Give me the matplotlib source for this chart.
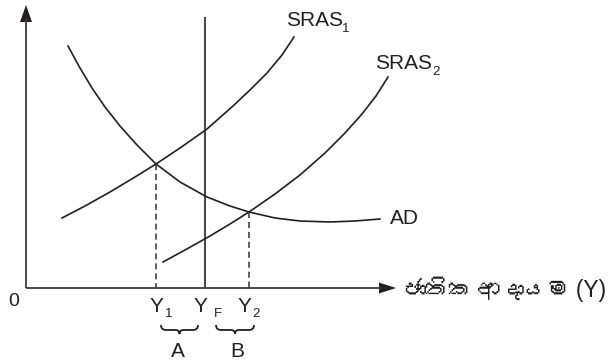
import matplotlib
matplotlib.use("Agg")
import matplotlib.pyplot as plt
from matplotlib.patches import Polygon, PathPatch
from matplotlib.path import Path
from matplotlib import font_manager
from matplotlib.ft2font import FT2Font

# ---------------- data (diagram read in pixel units of the 608x362 image) ----------------
ad_x = [68, 80, 92, 105, 120, 137, 156, 180, 207, 230, 249, 275, 300, 330, 355, 380]
ad_y = [46, 68, 88, 107, 126, 145, 164, 182, 197, 206, 212, 218, 221, 222, 221, 219]

sras1_x = [62, 85, 110, 135, 156, 180, 207, 233, 250, 267, 282, 294]
sras1_y = [218, 206, 192, 177, 164, 148, 129, 106, 90, 73, 55, 37]

sras2_x = [163, 185, 210, 230, 249, 275, 300, 325, 345, 362, 376, 388]
sras2_y = [262, 250, 236, 224, 212, 194, 175, 153, 133, 114, 96, 77]

y1_income, y1_price = 156, 164
y2_income, y2_price = 249, 212
yf_income = 205

curve_labels = ["SRAS", "SRAS", "AD"]
curve_subs = ["1", "2", ""]
income_labels = ["Y", "Y", "Y"]
income_subs = ["1", "F", "2"]
gap_labels = ["A", "B"]
origin_label = "0"
x_axis_label = "ජාතික ආදායම (Y)"

# ---------------- fonts ----------------
def find_font(ch):
    for f in font_manager.fontManager.ttflist:
        try:
            if ord(ch) in FT2Font(f.fname).get_charmap():
                return f.name
        except Exception:
            pass
    return None

sinhala_font = find_font("ජ")
latin = "Liberation Sans"
sin_family = [latin] + ([sinhala_font] if sinhala_font else []) + ["DejaVu Sans"]

INK = "#231f20"
AXC = "#3a3a3a"

fig = plt.figure(figsize=(6.08, 3.62), dpi=100)
ax = fig.add_axes([0, 0, 1, 1])
ax.set_xlim(0, 608)
ax.set_ylim(362, 0)
ax.axis("off")

# axes
ax_x0, ax_y0 = 26, 288
ax.plot([ax_x0, ax_x0], [ax_y0, 18], color=AXC, lw=1.3, solid_capstyle="butt")
ax.plot([ax_x0, 382], [ax_y0, ax_y0], color=AXC, lw=1.3, solid_capstyle="butt")
ax.add_patch(Polygon([[ax_x0, 5], [ax_x0 - 6, 22], [ax_x0 + 6, 22]], closed=True,
                     facecolor=INK, edgecolor="none"))
ax.add_patch(Polygon([[396, ax_y0], [379, ax_y0 - 5.5], [379, ax_y0 + 5.5]], closed=True,
                     facecolor=INK, edgecolor="none"))

# full-employment line
ax.plot([yf_income, yf_income], [ax_y0, 18], color="#4a4a4a", lw=1.5)

# curves
ax.plot(ad_x, ad_y, color=INK, lw=1.2)
ax.plot(sras1_x, sras1_y, color=INK, lw=1.2)
ax.plot(sras2_x, sras2_y, color=INK, lw=1.2)

# dashed guides
for xi, yi in [(y1_income, y1_price), (y2_income, y2_price)]:
    ax.plot([xi, xi], [yi, ax_y0], color="#333333", lw=1.1, dashes=(4, 2.5))

fs = 15
sub_fs = 9.5

# curve labels
ax.text(286, 26, curve_labels[0], fontsize=fs, family=latin, color=INK, va="baseline", ha="left")
ax.text(342, 32, curve_subs[0], fontsize=sub_fs, family=latin, color=INK, va="baseline", ha="left")
ax.text(375, 69, curve_labels[1], fontsize=fs, family=latin, color=INK, va="baseline", ha="left")
ax.text(432, 75, curve_subs[1], fontsize=sub_fs, family=latin, color=INK, va="baseline", ha="left")
ax.text(390, 224, curve_labels[2], fontsize=fs, family=latin, color=INK, va="baseline", ha="left")

# income labels
ypos = [(150, 165), (194, 214), (238, 252)]
for (xl, xs), lab, sub in zip(ypos, income_labels, income_subs):
    ax.text(xl, 312, lab, fontsize=fs, family=latin, color=INK, va="baseline", ha="left")
    ax.text(xs, 317, sub, fontsize=sub_fs, family=latin, color=INK, va="baseline", ha="left")

# braces
def brace(x0, x1, ytop=325, flat=330, tip=334):
    xm = (x0 + x1) / 2.0
    verts = [(x0, ytop), (x0, flat), (x0 + 5, flat),
             (xm - 4, flat), (xm, flat), (xm, tip),
             (xm, flat), (xm + 4, flat),
             (x1 - 5, flat), (x1, flat), (x1, ytop)]
    codes = [Path.MOVETO, Path.CURVE3, Path.CURVE3,
             Path.LINETO, Path.CURVE3, Path.CURVE3,
             Path.CURVE3, Path.CURVE3,
             Path.LINETO, Path.CURVE3, Path.CURVE3]
    ax.add_patch(PathPatch(Path(verts, codes), facecolor="none", edgecolor=INK, lw=1.3))

brace(161, 198)
brace(216, 254)
ax.text(178, 357, gap_labels[0], fontsize=fs, family=latin, color=INK, va="baseline", ha="center")
ax.text(237, 357, gap_labels[1], fontsize=fs, family=latin, color=INK, va="baseline", ha="center")

# origin and axis label
ax.text(14, 306, origin_label, fontsize=14, family=latin, color=INK, va="baseline", ha="center")
ax.text(403, 289, x_axis_label, fontsize=16.5, family=sin_family, color=INK, va="center", ha="left")

fig.savefig("out.png", dpi=100)
